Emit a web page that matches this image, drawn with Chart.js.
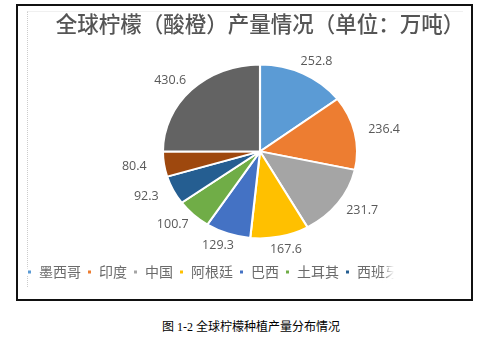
<!DOCTYPE html>
<html>
<head>
<meta charset="utf-8">
<script src="https://cdn.jsdelivr.net/npm/chart.js@4.4.1/dist/chart.umd.min.js"></script>
<style>
  body { margin: 0; background: #fff; width: 486px; height: 337px; overflow: hidden; position: relative; }
  #box { position: absolute; left: 16px; top: 4px; width: 453px; height: 293px; border: 2px solid #111; overflow: hidden; }
  #area { position: absolute; left: 9px; top: 5px; width: 435px; height: 275px; border-left: 1px dotted #ccc; border-top: 1px solid #f0f0f0; }
  #pie { position: absolute; left: 3px; top: 0; }
  #fade { position: absolute; left: 364px; top: 256px; width: 90px; height: 22px;
          background: linear-gradient(to right, rgba(255,255,255,0), #fff 12px); }
  #caption { position: absolute; left: 162px; top: 319px; font: 12px/16px "Liberation Serif", "Noto Sans CJK SC", serif; color: #000; white-space: nowrap; }
</style>
</head>
<body>
<div id="box">
  <div id="area"></div>
  <canvas id="pie" width="478" height="293"></canvas>
  <div id="fade"></div>
</div>
<div id="caption">图 1-2 全球柠檬种植产量分布情况</div>
<script>
const titulo = '全球柠檬（酸橙）产量情况（单位：万吨）';
const paises = ['墨西哥', '印度', '中国', '阿根廷', '巴西', '土耳其', '西班牙', '美国', '其他'];
const producao = [252.8, 236.4, 231.7, 167.6, 129.3, 100.7, 92.3, 80.4, 430.6];
const cores = ['#5B9BD5', '#ED7D31', '#A5A5A5', '#FFC000', '#4472C4', '#70AD47', '#255E91', '#9E480E', '#636363'];
// a legenda da figura original so mostra os 7 primeiros
const itensLegenda = 7;

// pizza levemente achatada como no Excel
const escalaX = 1.055;
const escalaY = 0.945;

const pluginPizza = {
  id: 'pizza',
  beforeDatasetsDraw(chart) {
    const arco = chart.getDatasetMeta(0).data[0];
    const ctx = chart.ctx;
    ctx.save();
    ctx.translate(arco.x, arco.y);
    ctx.scale(escalaX, escalaY);
    ctx.translate(-arco.x, -arco.y);
  },
  afterDatasetsDraw(chart) {
    const ctx = chart.ctx;
    ctx.restore();
    ctx.save();
    ctx.font = '12.5px "Open Sans", "Noto Sans", sans-serif';
    ctx.fillStyle = '#595959';
    ctx.textAlign = 'center';
    ctx.textBaseline = 'middle';
    chart.getDatasetMeta(0).data.forEach((arco, i) => {
      const meio = (arco.startAngle + arco.endAngle) / 2;
      const rx = arco.outerRadius * escalaX + 30;
      const ry = arco.outerRadius * escalaY + 13;
      ctx.fillText(producao[i].toFixed(1), arco.x + Math.cos(meio) * rx, arco.y + Math.sin(meio) * ry);
    });
    ctx.restore();
  }
};

const data = {
  labels: paises,
  datasets: [{
    data: producao,
    backgroundColor: cores,
    borderColor: '#fff',
    borderWidth: 2,
    radius: 92
  }]
};

const config = {
  type: 'pie',
  data: data,
  options: {
    responsive: false,
    animation: false,
    events: [],
    layout: { padding: { top: 0, bottom: 10, left: 0, right: 0 } },
    plugins: {
      tooltip: { enabled: false },
      title: {
        display: true,
        text: titulo,
        color: '#555555',
        font: { family: '"Noto Sans CJK SC", sans-serif', size: 21.5, weight: '500', lineHeight: 1.2 },
        padding: { top: 5, bottom: 7 }
      },
      legend: {
        position: 'bottom',
        align: 'start',
        labels: {
          boxWidth: 5,
          boxHeight: 5,
          padding: 6,
          color: '#6b6b6b',
          font: { family: '"Noto Sans CJK SC", sans-serif', size: 14 },
          filter: (item) => item.index < itensLegenda
        }
      }
    }
  },
  plugins: [pluginPizza]
};

var ctx = document.getElementById('pie').getContext('2d');
window.myChart = new Chart(ctx, config);
</script>
</body>
</html>
